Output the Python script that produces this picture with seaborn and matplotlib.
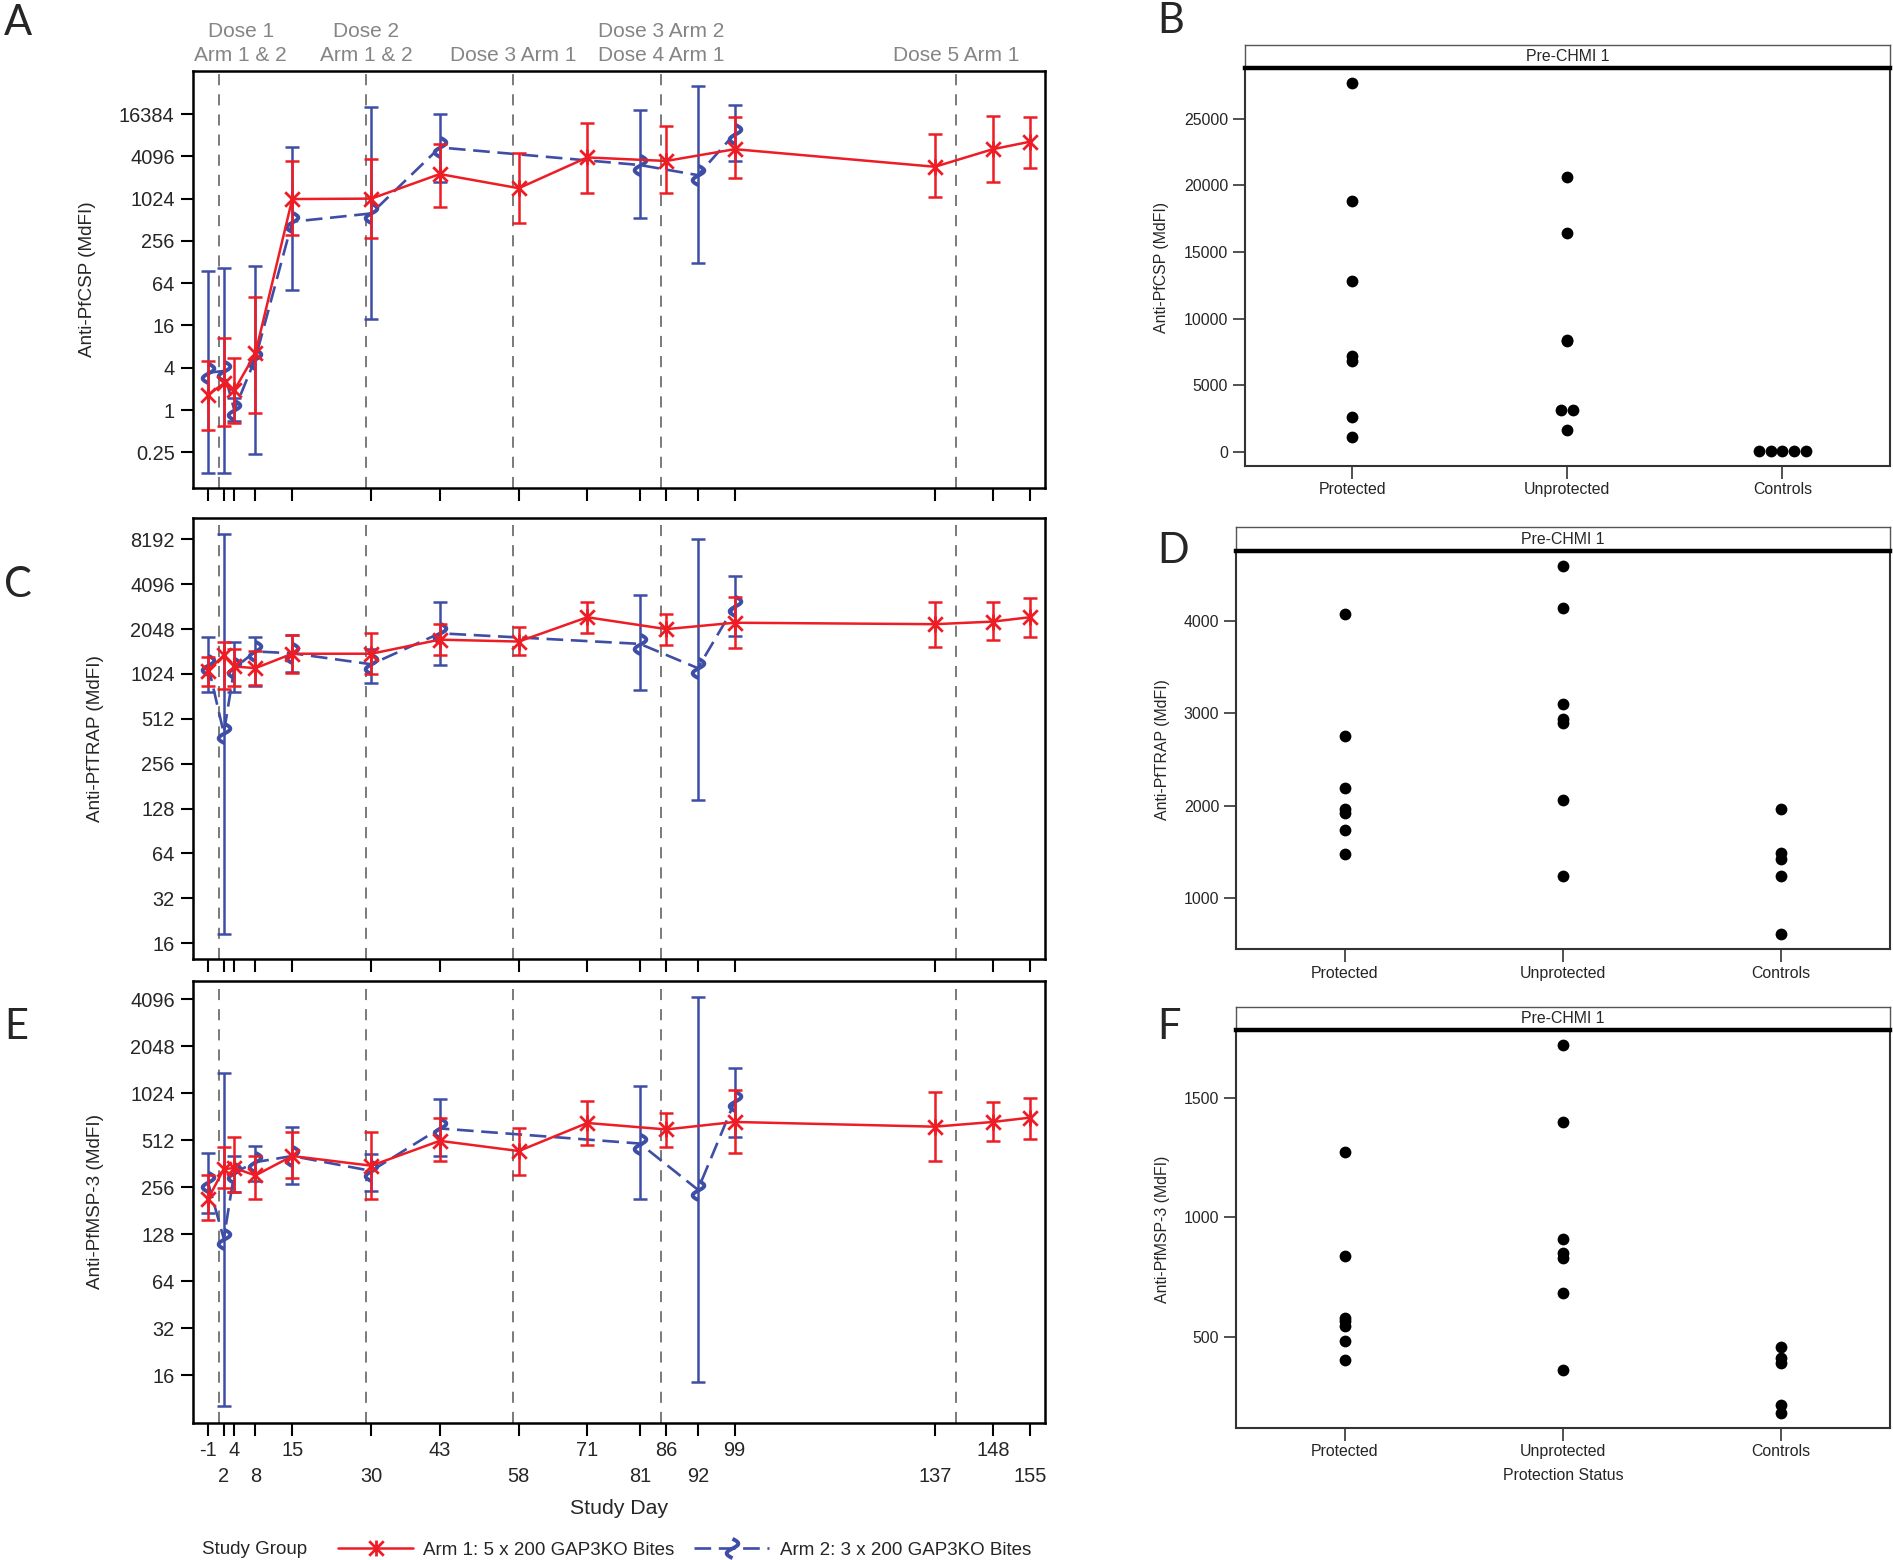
import numpy as np
import pandas as pd
import matplotlib
matplotlib.use("Agg")
import matplotlib.pyplot as plt
import seaborn as sns
from matplotlib.path import Path
from matplotlib.transforms import blended_transform_factory
from matplotlib.ticker import NullLocator

# ---------------- data ----------------
days_arm1 = [-1, 2, 4, 8, 15, 30, 43, 58, 71, 86, 99, 137, 148, 155]
days_arm2 = [-1, 2, 4, 8, 15, 30, 43, 81, 92, 99]
dose_days = [1, 29, 57, 85, 141]

csp_arm1 = [1.64, 2.4, 1.92, 6.4, 1010, 1024, 2290, 1440, 3950, 3520, 5180, 2910, 5180, 6600]
csp_arm1_lo = [0.52, 0.59, 0.65, 0.91, 311, 278, 770, 465, 1220, 1220, 1990, 1090, 1780, 2830]
csp_arm1_hi = [5.0, 10.5, 5.6, 41, 3510, 3720, 6100, 4520, 12300, 11000, 14700, 8400, 15300, 14700]
csp_arm2 = [3.4, 3.6, 1.0, 5.4, 480, 630, 5480, 3080, 2210, 8600]
csp_arm2_lo = [0.128, 0.128, 0.7, 0.235, 51, 19.6, 1780, 537, 125, 3510]
csp_arm2_hi = [95, 106, 1.5, 112, 5600, 20400, 16384, 18700, 40900, 22000]

trap_arm1 = [1080, 1370, 1150, 1120, 1400, 1400, 1740, 1690, 2460, 2048, 2260, 2210, 2300, 2460]
trap_arm1_lo = [845, 813, 850, 870, 1045, 1024, 1370, 1370, 1940, 1610, 1520, 1560, 1740, 1810]
trap_arm1_hi = [1340, 1690, 1500, 1450, 1870, 1940, 2210, 2100, 3130, 2600, 3380, 3130, 3130, 3300]
trap_arm2 = [1180, 410, 1120, 1450, 1410, 1190, 1920, 1630, 1120, 2940]
trap_arm2_lo = [770, 18.3, 770, 845, 1060, 897, 1170, 800, 145, 1840]
trap_arm2_hi = [1800, 8900, 1690, 1820, 1870, 1500, 3130, 3470, 8192, 4650]

msp_arm1 = [215, 335, 340, 305, 406, 352, 508, 437, 661, 601, 671, 626, 671, 715]
msp_arm1_lo = [159, 252, 238, 214, 292, 214, 375, 305, 481, 461, 425, 375, 508, 523]
msp_arm1_hi = [305, 467, 537, 406, 577, 577, 709, 610, 916, 771, 1075, 1045, 898, 962]
msp_arm2 = [276, 120, 317, 371, 406, 326, 610, 488, 247, 910]
msp_arm2_lo = [175, 10.2, 238, 282, 269, 243, 406, 214, 14.5, 537]
msp_arm2_hi = [425, 1380, 406, 474, 626, 419, 935, 1144, 4230, 1480]

xticks_row1 = [-1, 4, 15, 43, 71, 86, 99, 148]
xticks_row2 = [2, 8, 30, 58, 81, 92, 137, 155]

csp_yticks = [0.25, 1, 4, 16, 64, 256, 1024, 4096, 16384]
csp_yticklabels = ["0.25", "1", "4", "16", "64", "256", "1024", "4096", "16384"]
trap_yticks = [16, 32, 64, 128, 256, 512, 1024, 2048, 4096, 8192]
msp_yticks = [16, 32, 64, 128, 256, 512, 1024, 2048, 4096]

arm_labels = ["Arm 1: 5 x 200 GAP3KO Bites", "Arm 2: 3 x 200 GAP3KO Bites"]
dose_labels = [("Dose 1", "Arm 1 & 2"), ("Dose 2", "Arm 1 & 2"), ("", "Dose 3 Arm 1"),
               ("Dose 3 Arm 2", "Dose 4 Arm 1"), ("", "Dose 5 Arm 1")]

categories = ["Protected", "Unprotected", "Controls"]
csp_protected = [27660, 18820, 12815, 7180, 6830, 2580, 1075]
csp_unprotected = [20620, 16440, 8420, 8300, 3100, 3100, 1600]
csp_controls = [30, 30, 30, 30, 30]
trap_protected = [4079, 2752, 2197, 1963, 1927, 1735, 1479]
trap_unprotected = [4595, 4137, 3098, 2940, 2893, 2064, 1238]
trap_controls = [1970, 1487, 1422, 1238, 610]
msp_protected = [1273, 836, 577, 563, 542, 483, 401]
msp_unprotected = [1720, 1400, 909, 849, 829, 681, 358]
msp_controls = [455, 409, 388, 214, 179]

# ---------------- style ----------------
sns.set_theme(style="ticks", context="notebook")
plt.rcParams["font.family"] = ["Liberation Sans", "DejaVu Sans"]
plt.rcParams["lines.scale_dashes"] = False

RED = "#EE1C25"
BLUE = "#3E4DA6"
W, H = 1893, 1560

fig = plt.figure(figsize=(W / 100, H / 100), dpi=100)


def rect(l, t, r, b):
    return [l / W, 1 - b / H, (r - l) / W, (b - t) / H]


ast_marker = Path([(-1, -1), (1, 1), (-1, 1), (1, -1), (0, -1.1), (0, 1.1)],
                  [Path.MOVETO, Path.LINETO, Path.MOVETO, Path.LINETO, Path.MOVETO, Path.LINETO])
_t = np.linspace(-1, 1, 31)
wave_marker = Path(np.column_stack([0.6 * np.sin(np.pi * _t), _t]))


def line_panel(ax, v1, lo1, hi1, v2, lo2, hi2, ylim, yticks, yticklabels, ylabel, show_labels):
    ax.set_yscale("log", base=2)
    for d in dose_days:
        ax.axvline(d, color="#7a7a7a", lw=1.4, ls=(0, (8, 6.5)), zorder=1)
    v1, lo1, hi1 = map(np.asarray, (v1, lo1, hi1))
    v2, lo2, hi2 = map(np.asarray, (v2, lo2, hi2))
    ax.errorbar(days_arm2, v2, yerr=[v2 - lo2, hi2 - v2], fmt="none", ecolor=BLUE,
                elinewidth=1.8, capsize=4.8, capthick=1.8, zorder=2)
    sns.lineplot(x=days_arm2, y=v2, ax=ax, color=BLUE, lw=1.9, marker=wave_marker,
                 markersize=14, markeredgewidth=2.8, markeredgecolor=BLUE,
                 markerfacecolor="none", zorder=3)
    ax.lines[-1].set_dashes([12, 5.5])
    ax.errorbar(days_arm1, v1, yerr=[v1 - lo1, hi1 - v1], fmt="none", ecolor=RED,
                elinewidth=1.8, capsize=4.8, capthick=1.8, zorder=4)
    sns.lineplot(x=days_arm1, y=v1, ax=ax, color=RED, lw=1.8, marker=ast_marker,
                 markersize=11.5, markeredgewidth=2.0, markeredgecolor=RED,
                 markerfacecolor="none", zorder=5)
    if ax.get_legend() is not None:
        ax.get_legend().remove()
    ax.set_xlim(-3.9, 157.9)
    ax.set_ylim(*ylim)
    ax.set_yticks(yticks)
    ax.set_yticklabels(yticklabels)
    ax.yaxis.set_minor_locator(NullLocator())
    ax.set_xticks(xticks_row1)
    ax.set_xticks(xticks_row2, minor=True)
    ax.tick_params(axis="both", which="both", length=9, width=1.5, color="black",
                   direction="out", labelsize=14.4, pad=4)
    if show_labels:
        ax.set_xticklabels([str(d) for d in xticks_row1])
        ax.set_xticklabels([str(d) for d in xticks_row2], minor=True)
        ax.tick_params(axis="x", which="minor", pad=23)
    else:
        ax.tick_params(axis="x", which="both", labelbottom=False)
    for s in ax.spines.values():
        s.set_visible(True)
        s.set_linewidth(1.8)
        s.set_color("black")
    ax.set_xlabel("")
    ax.set_ylabel(ylabel, fontsize=13.6)
    return ax


axA = fig.add_axes(rect(192.7, 70.7, 1045, 488.3))
axC = fig.add_axes(rect(192.7, 518.3, 1045, 959.3))
axE = fig.add_axes(rect(192.7, 981, 1045, 1422.7))

line_panel(axA, csp_arm1, csp_arm1_lo, csp_arm1_hi, csp_arm2, csp_arm2_lo, csp_arm2_hi,
           (2 ** -3.7, 2 ** 16.05), csp_yticks, csp_yticklabels, "Anti-PfCSP (MdFI)", False)
line_panel(axC, trap_arm1, trap_arm1_lo, trap_arm1_hi, trap_arm2, trap_arm2_lo, trap_arm2_hi,
           (2 ** 3.64, 2 ** 13.47), trap_yticks, [str(v) for v in trap_yticks],
           "Anti-PfTRAP (MdFI)", False)
line_panel(axE, msp_arm1, msp_arm1_lo, msp_arm1_hi, msp_arm2, msp_arm2_lo, msp_arm2_hi,
           (2 ** 2.99, 2 ** 12.39), msp_yticks, [str(v) for v in msp_yticks],
           "Anti-PfMSP-3 (MdFI)", True)

axA.yaxis.set_label_coords(-0.1135, 0.5)
axC.yaxis.set_label_coords(-0.104, 0.5)
axE.yaxis.set_label_coords(-0.104, 0.5)

# dose annotations
tr = blended_transform_factory(axA.transData, axA.transAxes)
for d, (l1, l2) in zip(dose_days, dose_labels):
    xd = d + 4.2 if d == dose_days[0] else d
    if l1:
        axA.text(xd, 1.0807, l1, transform=tr, ha="center", va="baseline",
                 fontsize=15, color="#858585")
    axA.text(xd, 1.0232, l2, transform=tr, ha="center", va="baseline",
             fontsize=15, color="#858585")

fig.text(619 / W, 1 - 1508 / H, "Study Day", ha="center", va="center", fontsize=15.3)
fig.text(201.7 / W, 1 - 1550 / H, "Study Group", ha="left", va="center", fontsize=13.5)
red_h = [l for l in axE.lines if l.get_color() == RED][-1]
blue_h = [l for l in axE.lines if l.get_color() == BLUE][-1]
fig.legend(handles=[red_h, blue_h], labels=arm_labels, loc="center left",
           bbox_to_anchor=(338 / W, 1 - 1550 / H), ncol=2, frameon=False,
           handlelength=4.0, handletextpad=0.55, columnspacing=1.05,
           borderpad=0, borderaxespad=0, fontsize=13.5, numpoints=1)


# ---------------- right panels ----------------
def jitter_positions(values, cat_index, step=0.055):
    out = []
    for i, v in enumerate(values):
        same = [j for j, w in enumerate(values) if w == v]
        k = same.index(i)
        out.append(cat_index + (k - (len(same) - 1) / 2) * step)
    return out


def dot_panel(strip_rect, plot_rect, groups, ylim, yticks, ylabel, label_x):
    sax = fig.add_axes(rect(*strip_rect))
    sax.set_xticks([])
    sax.set_yticks([])
    for s in sax.spines.values():
        s.set_linewidth(1.0)
        s.set_color("#555555")
    sax.text(0.5, 0.5, "Pre-CHMI 1", ha="center", va="center", fontsize=11.4,
             transform=sax.transAxes)
    ax = fig.add_axes(rect(*plot_rect))
    rows = []
    for ci, (cat, vals) in enumerate(zip(categories, groups)):
        for x, v in zip(jitter_positions(vals, ci), vals):
            rows.append({"status": cat, "x": x, "value": v})
    df = pd.DataFrame(rows)
    sns.scatterplot(data=df, x="x", y="value", ax=ax, color="black", s=72,
                    linewidth=0, zorder=3)
    ax.set_xlim(-0.5, 2.5)
    ax.set_ylim(*ylim)
    ax.set_xticks(range(len(categories)))
    ax.set_xticklabels(categories)
    ax.set_yticks(yticks)
    ax.set_yticklabels([str(v) for v in yticks])
    ax.tick_params(axis="both", length=9, width=1.2, color="#333333", labelsize=11.4, pad=3)
    for name, s in ax.spines.items():
        s.set_visible(True)
        s.set_linewidth(1.5)
        s.set_color("#333333")
    ax.spines["top"].set_linewidth(3.2)
    ax.spines["top"].set_color("black")
    ax.set_xlabel("")
    ax.set_ylabel(ylabel, fontsize=11.4)
    ax.yaxis.set_label_coords(label_x, 0.5)
    return ax


axB = dot_panel((1244.7, 45, 1890, 68.3), (1244.7, 68.3, 1890, 465.7),
                [csp_protected, csp_unprotected, csp_controls], (-1051, 28784),
                [0, 5000, 10000, 15000, 20000, 25000], "Anti-PfCSP (MdFI)", -0.118)
axD = dot_panel((1236, 527.3, 1890, 550.7), (1236, 550.7, 1890, 949),
                [trap_protected, trap_unprotected, trap_controls], (452, 4760),
                [1000, 2000, 3000, 4000], "Anti-PfTRAP (MdFI)", -0.101)
axF = dot_panel((1236, 1007.3, 1890, 1030), (1236, 1030, 1890, 1427.7),
                [msp_protected, msp_unprotected, msp_controls], (118, 1784),
                [500, 1000, 1500], "Anti-PfMSP-3 (MdFI)", -0.101)
fig.text(1563 / W, 1 - 1475.7 / H, "Protection Status", ha="center", va="center", fontsize=11.4)

# panel letters
letters = [("A", 4, 4), ("B", 1157, 2), ("C", 4, 566), ("D", 1157, 532), ("E", 4, 1008), ("F", 1157, 1008)]
for t, x, y in letters:
    fig.text(x / W, 1 - y / H, t, ha="left", va="top", fontsize=30,
             family=["Lato", "DejaVu Sans"])

fig.savefig("out.png", dpi=100)
